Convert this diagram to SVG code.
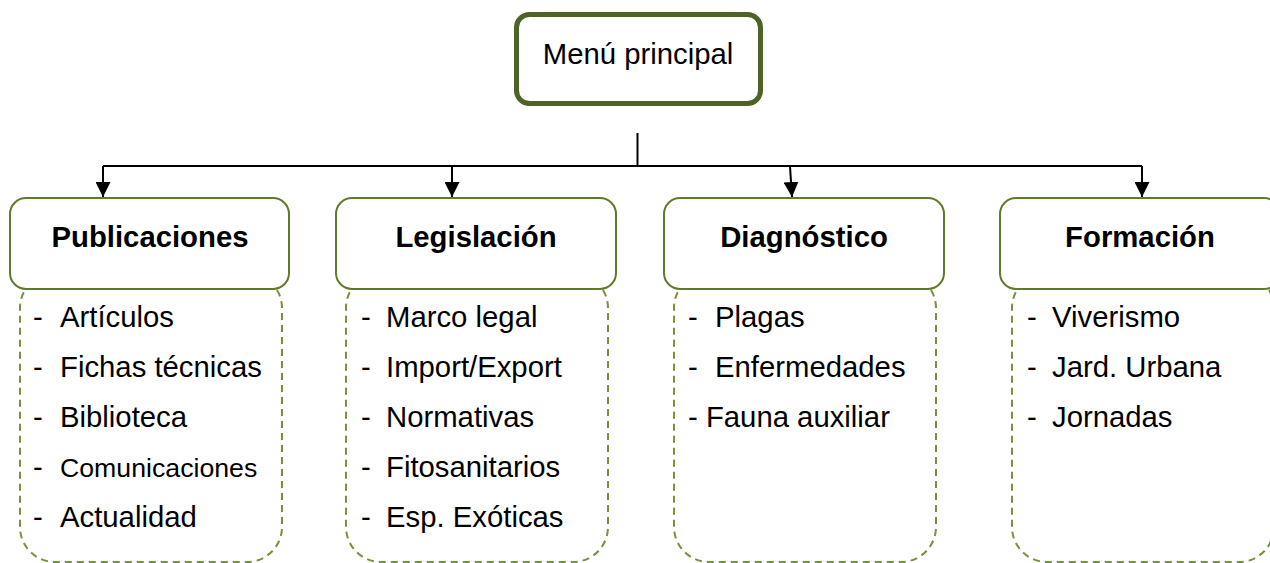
<svg xmlns="http://www.w3.org/2000/svg" width="1270" height="563" viewBox="0 0 1270 563">
<style>
text{font-family:"Liberation Sans",Arial,sans-serif;fill:#000}
.main{fill:#fff;stroke:#4f6228;stroke-width:5}
.cat{fill:#fff;stroke:#5f7a2a;stroke-width:2}
.list{fill:none;stroke:#76923c;stroke-width:2;stroke-dasharray:7 5}
.lbl{font-size:29.3px;font-weight:bold;text-anchor:middle}
.item{font-size:29.3px}
.con{fill:none;stroke:#000;stroke-width:2}
</style>
<defs>
<marker id="arr" viewBox="0 0 10 10" refX="10" refY="5" markerWidth="15" markerHeight="15" markerUnits="userSpaceOnUse" orient="auto">
<path d="M0,0 L10,5 L0,10 Z" fill="#000"/>
</marker>
</defs>
<rect width="1270" height="563" fill="#fff"/>
<g id="lists">
<rect id="list-publicaciones" class="list" x="20" y="273" width="262" height="289" rx="35"/>
<rect id="list-legislacion" class="list" x="346" y="273" width="262" height="289" rx="35"/>
<rect id="list-diagnostico" class="list" x="674" y="273" width="262" height="289" rx="35"/>
<rect id="list-formacion" class="list" x="1012" y="273" width="262" height="289" rx="35"/>
</g>
<g id="connectors">
<path class="con" d="M637.5,133 V166"/>
<path class="con" d="M103,166 H1142"/>
<path class="con" d="M103,166 V197" marker-end="url(#arr)"/>
<path class="con" d="M452,166 V197" marker-end="url(#arr)"/>
<path class="con" d="M790,166 L792,197" marker-end="url(#arr)"/>
<path class="con" d="M1142,166 V197" marker-end="url(#arr)"/>
</g>
<g id="node-main">
<rect class="main" x="516.5" y="14.5" width="244" height="89" rx="13"/>
<text x="638" y="64" font-size="29.3" text-anchor="middle">Menú principal</text>
</g>
<g id="node-publicaciones">
<rect class="cat" x="10" y="198" width="279" height="91" rx="16"/>
<text class="lbl" x="150" y="247">Publicaciones</text>
<text class="item" y="327"><tspan x="33">-</tspan><tspan x="60">Artículos</tspan></text>
<text class="item" y="377"><tspan x="33">-</tspan><tspan x="60">Fichas técnicas</tspan></text>
<text class="item" y="427"><tspan x="33">-</tspan><tspan x="60">Biblioteca</tspan></text>
<text y="477"><tspan class="item" x="33">-</tspan><tspan x="60" font-size="26.7">Comunicaciones</tspan></text>
<text class="item" y="527"><tspan x="33">-</tspan><tspan x="60">Actualidad</tspan></text>
</g>
<g id="node-legislacion">
<rect class="cat" x="336" y="198" width="280" height="91" rx="16"/>
<text class="lbl" x="476" y="247">Legislación</text>
<text class="item" y="327"><tspan x="361">-</tspan><tspan x="386">Marco legal</tspan></text>
<text class="item" y="377"><tspan x="361">-</tspan><tspan x="386">Import/Export</tspan></text>
<text class="item" y="427"><tspan x="361">-</tspan><tspan x="386">Normativas</tspan></text>
<text class="item" y="477"><tspan x="361">-</tspan><tspan x="386">Fitosanitarios</tspan></text>
<text class="item" y="527"><tspan x="361">-</tspan><tspan x="386">Esp. Exóticas</tspan></text>
</g>
<g id="node-diagnostico">
<rect class="cat" x="664" y="198" width="280" height="91" rx="16"/>
<text class="lbl" x="804" y="247">Diagnóstico</text>
<text class="item" y="327"><tspan x="688">-</tspan><tspan x="715">Plagas</tspan></text>
<text class="item" y="377"><tspan x="688">-</tspan><tspan x="715">Enfermedades</tspan></text>
<text class="item" x="688" y="427">- Fauna auxiliar</text>
</g>
<g id="node-formacion">
<rect class="cat" x="1000" y="198" width="280" height="91" rx="16"/>
<text class="lbl" x="1140" y="247">Formación</text>
<text class="item" y="327"><tspan x="1027">-</tspan><tspan x="1052">Viverismo</tspan></text>
<text class="item" y="377"><tspan x="1027">-</tspan><tspan x="1052">Jard. Urbana</tspan></text>
<text class="item" y="427"><tspan x="1027">-</tspan><tspan x="1052">Jornadas</tspan></text>
</g>
</svg>
